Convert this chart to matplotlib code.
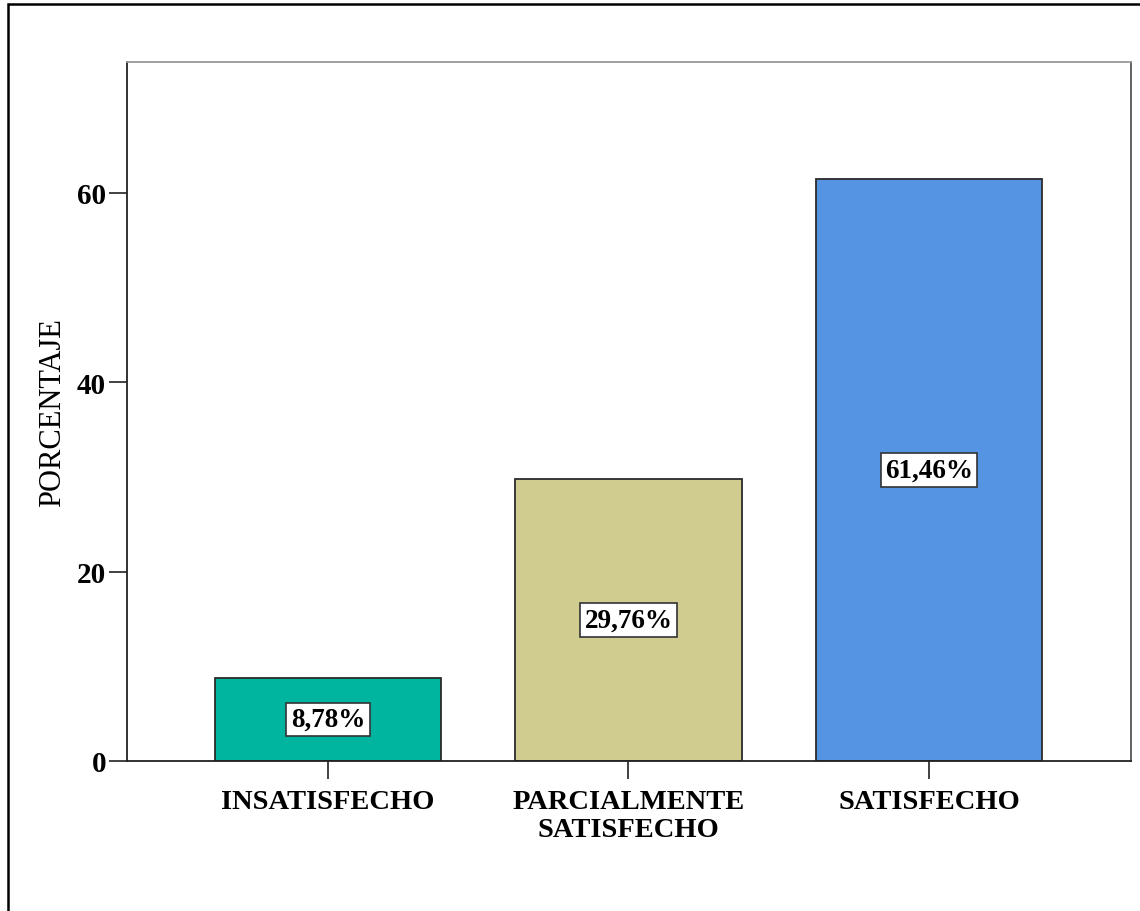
import matplotlib
matplotlib.use("Agg")
import matplotlib.pyplot as plt
from matplotlib.patches import Rectangle

categories = ["INSATISFECHO", "PARCIALMENTE\nSATISFECHO", "SATISFECHO"]
porcentajes = [8.78, 29.76, 61.46]
etiquetas = ["8,78%", "29,76%", "61,46%"]
colores = ["#00B5A0", "#D0CB8F", "#5594E3"]
yticks = [0, 20, 40, 60]

plt.rcParams["font.family"] = ["Liberation Serif", "DejaVu Serif"]

fig = plt.figure(figsize=(11.4, 9.12), dpi=100)
ax = fig.add_axes([0.1114, 0.1645, 0.8806, 0.7665])

x = list(range(len(categories)))
ax.bar(x, porcentajes, width=0.753, color=colores, edgecolor="#2b2b2b", linewidth=1.3, zorder=2)

for xi, v, lab in zip(x, porcentajes, etiquetas):
    ax.text(xi, v / 2, lab, ha="center", va="center", fontsize=19.5, fontweight="bold",
            bbox=dict(boxstyle="square,pad=0.16", facecolor="white", edgecolor="#333333", linewidth=1.2),
            zorder=3)

ax.set_xlim(-0.669, 2.672)
ax.set_ylim(0, 73.8)
ax.set_yticks(yticks)
ax.set_yticklabels([str(t) for t in yticks], fontsize=21, fontweight="bold")
ax.set_xticks(x)
ax.set_xticklabels(categories, fontsize=20.5, fontweight="bold", linespacing=1.18)
ax.tick_params(axis="y", direction="out", length=13, width=1.3, color="#333333", pad=2)
ax.tick_params(axis="x", direction="out", length=13, width=1.3, color="#333333", pad=7)
ax.set_ylabel("PORCENTAJE", fontsize=22, labelpad=7)

ax.spines["left"].set_color("#222222")
ax.spines["bottom"].set_color("#222222")
ax.spines["right"].set_color("#555555")
ax.spines["top"].set_color("#999999")
for s in ax.spines.values():
    s.set_linewidth(1.3)

# outer frame around the chart
W, H = 1140, 912
fig.patches.append(Rectangle((8 / W, -0.05), 1.1, (H - 5) / H + 0.05, transform=fig.transFigure,
                             fill=False, edgecolor="black", linewidth=1.8))

fig.savefig("out.png", dpi=100)
